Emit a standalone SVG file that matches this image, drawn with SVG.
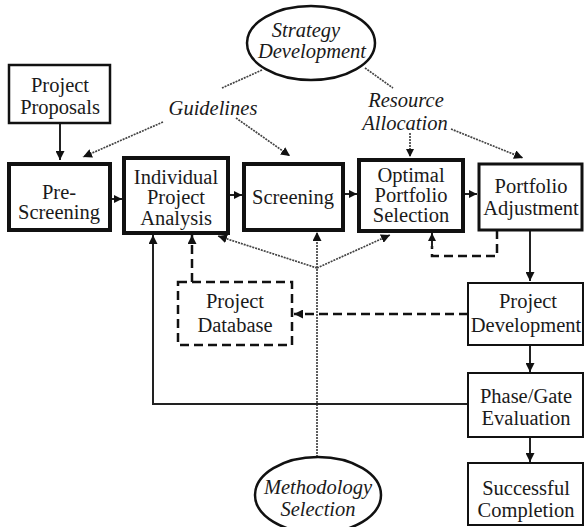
<svg xmlns="http://www.w3.org/2000/svg" width="584" height="527" viewBox="0 0 584 527">
<defs>
<style>
text{font-family:'Liberation Serif',Tinos,'Times New Roman',Times,serif;font-size:20.5px;fill:#1a1a1a;text-anchor:middle}
.it{font-style:italic}
.box{fill:#fff;stroke:#111;stroke-width:2}
.thick{fill:#fff;stroke:#111;stroke-width:4}
.dbox{fill:#fff;stroke:#111;stroke-width:2.5;stroke-dasharray:9 5}
.solid{fill:none;stroke:#222;stroke-width:2}
.dash{fill:none;stroke:#111;stroke-width:2.5;stroke-dasharray:9 5}
.dot{fill:none;stroke:#444;stroke-width:1.7;stroke-dasharray:2 1}
.ell{fill:#fff;stroke:#111;stroke-width:2.5}
</style>
<marker id="ah" viewBox="0 0 10 10" refX="10" refY="5" markerWidth="9" markerHeight="9" markerUnits="userSpaceOnUse" orient="auto">
<path d="M0,0 L10,5 L0,10 z" fill="#111"/>
</marker>
<marker id="ahs" viewBox="0 0 10 10" refX="10" refY="5" markerWidth="8" markerHeight="8" markerUnits="userSpaceOnUse" orient="auto">
<path d="M0,0 L10,5 L0,10 z" fill="#111"/>
</marker>
</defs>

<g id="connectors">
<line class="solid" x1="60" y1="123" x2="60" y2="160" marker-end="url(#ah)"/>
<line class="solid" x1="110" y1="199" x2="122" y2="199" marker-end="url(#ahs)"/>
<line class="solid" x1="228" y1="195" x2="242" y2="195" marker-end="url(#ahs)"/>
<line class="solid" x1="343" y1="194" x2="357" y2="194" marker-end="url(#ahs)"/>
<line class="solid" x1="463" y1="194" x2="477" y2="194" marker-end="url(#ahs)"/>
<line class="dot" x1="262" y1="70" x2="222" y2="88"/>
<line class="dot" x1="163" y1="122" x2="83" y2="157" marker-end="url(#ah)"/>
<line class="dot" x1="236" y1="118" x2="290" y2="156" marker-end="url(#ah)"/>
<line class="dot" x1="365" y1="68" x2="393" y2="88"/>
<line class="dot" x1="451" y1="129" x2="523" y2="158" marker-end="url(#ah)"/>
<line class="dot" x1="410" y1="133" x2="410" y2="157" marker-end="url(#ahs)"/>
<line class="dot" x1="317" y1="457" x2="317" y2="232" marker-end="url(#ah)"/>
<line class="dot" x1="317" y1="268" x2="218" y2="236" marker-end="url(#ah)"/>
<line class="dot" x1="317" y1="268" x2="390" y2="235" marker-end="url(#ah)"/>
<polyline class="solid" points="468,404 153,404 153,235" marker-end="url(#ah)"/>
<line class="dash" x1="192" y1="282" x2="192" y2="235" marker-end="url(#ah)"/>
<line class="dash" x1="468" y1="314" x2="294" y2="314" marker-end="url(#ah)"/>
<polyline class="dash" points="497,230 497,256 432,256 432,246"/>
<line class="solid" x1="432" y1="248" x2="432" y2="233" marker-end="url(#ahs)"/>
<line class="solid" x1="530" y1="230" x2="530" y2="281" marker-end="url(#ah)"/>
<line class="solid" x1="530" y1="345" x2="530" y2="372" marker-end="url(#ah)"/>
<line class="solid" x1="530" y1="437" x2="530" y2="462" marker-end="url(#ah)"/>
</g>

<g id="strategy">
<ellipse class="ell" cx="311" cy="43" rx="64" ry="37"/>
<text class="it" x="306" y="37">Strategy</text>
<text class="it" x="312" y="58">Development</text>
</g>
<g id="guidelines"><text class="it" x="213" y="115">Guidelines</text></g>
<g id="resource">
<text class="it" x="406" y="107">Resource</text>
<text class="it" x="405" y="130">Allocation</text>
</g>
<g id="proposals">
<rect class="box" x="9" y="65" width="101" height="58" style="stroke-width:2.5"/>
<text x="60" y="92">Project</text>
<text x="60" y="114">Proposals</text>
</g>
<g id="prescreening">
<rect class="thick" x="9" y="164" width="101" height="66"/>
<text x="59" y="199">Pre-</text>
<text x="59" y="219">Screening</text>
</g>
<g id="ipa">
<rect class="thick" x="124" y="158" width="104" height="75"/>
<text x="176" y="184">Individual</text>
<text x="176" y="204">Project</text>
<text x="176" y="225">Analysis</text>
</g>
<g id="screening">
<rect class="thick" x="244" y="164" width="99" height="66"/>
<text x="293" y="204">Screening</text>
</g>
<g id="optimal">
<rect class="thick" x="359" y="160" width="104" height="71"/>
<text x="411" y="182">Optimal</text>
<text x="411" y="202">Portfolio</text>
<text x="411" y="222">Selection</text>
</g>
<g id="adjustment">
<rect class="box" x="479" y="164" width="103" height="66" style="stroke-width:3"/>
<text x="531" y="193">Portfolio</text>
<text x="531" y="215">Adjustment</text>
</g>
<g id="database">
<rect class="dbox" x="178" y="282" width="114" height="63"/>
<text x="235" y="308">Project</text>
<text x="235" y="332">Database</text>
</g>
<g id="development">
<rect class="box" x="468" y="283" width="115" height="62"/>
<text x="528" y="308">Project</text>
<text x="526" y="332">Development</text>
</g>
<g id="phasegate">
<rect class="box" x="468" y="373" width="115" height="64"/>
<text x="526" y="403">Phase/Gate</text>
<text x="526" y="425">Evaluation</text>
</g>
<g id="completion">
<rect class="box" x="468" y="463" width="115" height="62"/>
<text x="526" y="495">Successful</text>
<text x="526" y="517">Completion</text>
</g>
<g id="methodology">
<ellipse class="ell" cx="318" cy="495" rx="63" ry="38"/>
<text class="it" x="318" y="494">Methodology</text>
<text class="it" x="318" y="516">Selection</text>
</g>
</svg>
